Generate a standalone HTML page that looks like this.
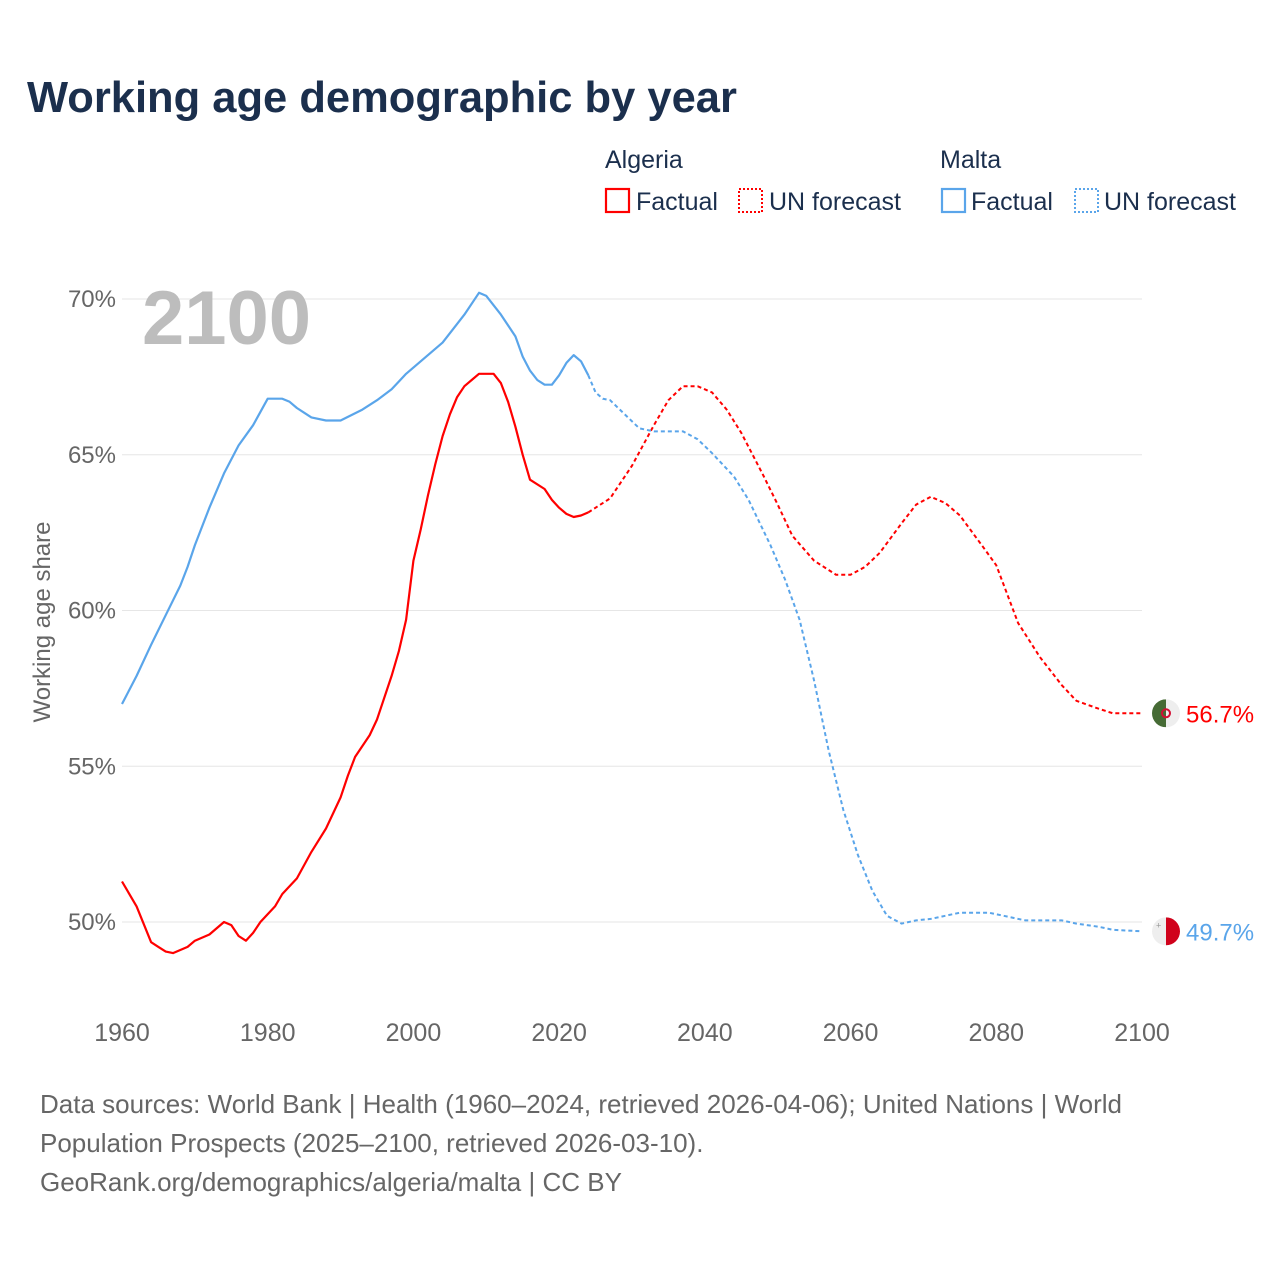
<!DOCTYPE html>
<html><head><meta charset="utf-8"><style>
body{margin:0;background:#fff;}
svg{display:block;font-family:"Liberation Sans",sans-serif;}
</style></head><body>
<svg width="1280" height="1280" viewBox="0 0 1280 1280">
<text x="27" y="112" font-size="43.5" font-weight="bold" fill="#1b2f4d">Working age demographic by year</text>
<g font-size="25" fill="#1b2f4d">
<text x="605" y="168">Algeria</text>
<rect x="606" y="189" width="23" height="23" fill="none" stroke="#f00" stroke-width="2.2"/>
<text x="636" y="210">Factual</text>
<rect x="739" y="189" width="23" height="23" fill="none" stroke="#f00" stroke-width="2" stroke-dasharray="2,2"/>
<text x="769" y="210">UN forecast</text>
<text x="940" y="168">Malta</text>
<rect x="942" y="189" width="23" height="23" fill="none" stroke="#5aa5ea" stroke-width="2.2"/>
<text x="971" y="210">Factual</text>
<rect x="1075" y="189" width="23" height="23" fill="none" stroke="#5aa5ea" stroke-width="2" stroke-dasharray="2,2"/>
<text x="1104" y="210">UN forecast</text>
</g>
<g id="grid"></g>
<text x="142" y="344" font-size="76" font-weight="bold" fill="#bdbdbd">2100</text>
<text transform="translate(50,622) rotate(-90)" text-anchor="middle" font-size="24" fill="#666">Working age share</text>
<g id="series"></g>
<g font-size="26" fill="#666">
<text x="40" y="1113">Data sources: World Bank | Health (1960–2024, retrieved 2026-04-06); United Nations | World</text>
<text x="40" y="1152">Population Prospects (2025–2100, retrieved 2026-03-10).</text>
<text x="40" y="1191">GeoRank.org/demographics/algeria/malta | CC BY</text>
</g>
</svg>
<script>
const xTicks=[1960,1980,2000,2020,2040,2060,2080,2100];
const yTicks=[50,55,60,65,70];
const algYears=[1960,1962,1964,1965,1966,1967,1968,1969,1970,1972,1974,1975,1976,1977,1978,1979,1981,1982,1984,1986,1988,1990,1991,1992,1994,1995,1997,1998,1999,2000,2001,2002,2003,2004,2005,2006,2007,2008,2009,2010,2011,2012,2013,2014,2015,2016,2018,2019,2020,2021,2022,2023,2024,2025,2027,2030,2033,2035,2037,2039,2041,2043,2045,2048,2050,2052,2055,2058,2060,2062,2064,2067,2069,2071,2073,2075,2078,2080,2083,2086,2089,2091,2094,2096,2100];
const algVals=[51.3,50.5,49.35,49.2,49.05,49.0,49.1,49.2,49.4,49.6,50.0,49.9,49.55,49.4,49.65,50.0,50.5,50.9,51.4,52.25,53.0,54.0,54.7,55.3,56.0,56.5,57.9,58.7,59.7,61.6,62.6,63.7,64.7,65.6,66.3,66.85,67.2,67.4,67.6,67.6,67.6,67.3,66.7,65.9,65.0,64.2,63.9,63.55,63.3,63.1,63.0,63.05,63.15,63.3,63.6,64.65,65.95,66.75,67.2,67.2,67.0,66.45,65.7,64.35,63.4,62.4,61.6,61.15,61.15,61.4,61.85,62.8,63.4,63.65,63.45,63.05,62.1,61.45,59.6,58.5,57.6,57.1,56.85,56.7,56.7];
const mltYears=[1960,1962,1964,1966,1968,1969,1970,1972,1974,1976,1978,1980,1982,1983,1984,1985,1986,1988,1990,1993,1995,1997,1999,2001,2004,2007,2009,2010,2012,2014,2015,2016,2017,2018,2019,2020,2021,2022,2023,2024,2025,2026,2027,2029,2031,2033,2037,2039,2041,2044,2046,2049,2051,2053,2055,2057,2059,2061,2063,2065,2067,2069,2071,2073,2075,2079,2081,2084,2089,2091,2094,2096,2100];
const mltVals=[57.0,57.9,58.9,59.85,60.8,61.4,62.1,63.3,64.4,65.3,65.95,66.8,66.8,66.7,66.5,66.35,66.2,66.1,66.1,66.45,66.75,67.1,67.6,68.0,68.6,69.5,70.2,70.1,69.5,68.8,68.15,67.7,67.4,67.25,67.25,67.55,67.95,68.2,68.0,67.55,67.0,66.8,66.75,66.3,65.85,65.75,65.75,65.5,65.05,64.3,63.55,62.1,61.0,59.7,57.75,55.5,53.6,52.15,51.0,50.2,49.95,50.05,50.1,50.2,50.3,50.3,50.2,50.05,50.05,49.95,49.85,49.75,49.7];
const lastFactual=2024;
const X=y=>122+(y-1960)*(1020/140);
const Y=v=>922-(v-50)*31.15;
const NS="http://www.w3.org/2000/svg";
const grid=document.getElementById('grid');
for(const t of yTicks){
 const l=document.createElementNS(NS,'line');
 l.setAttribute('x1',122);l.setAttribute('x2',1142);l.setAttribute('y1',Y(t));l.setAttribute('y2',Y(t));
 l.setAttribute('stroke','#e6e6e6');l.setAttribute('stroke-width','1');
 
 
 grid.appendChild(l);
 const tx=document.createElementNS(NS,'text');
 tx.setAttribute('x',116);tx.setAttribute('y',Y(t)+8);tx.setAttribute('text-anchor','end');
 tx.setAttribute('font-size','24');tx.setAttribute('fill','#666');tx.textContent=t+'%';
 
 
 grid.appendChild(tx);
}
for(const t of xTicks){
 const tx=document.createElementNS(NS,'text');
 tx.setAttribute('x',X(t));tx.setAttribute('y',1041);tx.setAttribute('text-anchor','middle');
 tx.setAttribute('font-size','25');tx.setAttribute('fill','#666');tx.textContent=t;
 
 
 grid.appendChild(tx);
}
const ser=document.getElementById('series');
function draw(years,vals,color,name){
 const f=[],p=[];
 years.forEach((y,i)=>{const pt=X(y).toFixed(1)+','+Y(vals[i]).toFixed(1);if(y<=lastFactual)f.push(pt);if(y>=lastFactual)p.push(pt);});
 const a=document.createElementNS(NS,'polyline');
 a.setAttribute('points',f.join(' '));a.setAttribute('fill','none');a.setAttribute('stroke',color);a.setAttribute('stroke-width','2.2');a.setAttribute('stroke-linejoin','round');
 
 
 ser.appendChild(a);
 const b=document.createElementNS(NS,'polyline');
 b.setAttribute('points',p.join(' '));b.setAttribute('fill','none');b.setAttribute('stroke',color);b.setAttribute('stroke-width','2');b.setAttribute('stroke-dasharray','4,3');
 
 
 ser.appendChild(b);
}
draw(algYears,algVals,'#f00','algeria');
draw(mltYears,mltVals,'#5aa5ea','malta');
function endMarker(v,color,name,left,right,text){
 const cy=Y(v),cx=1166;
 const g=document.createElementNS(NS,'g');
 
 
 g.innerHTML=`<clipPath id="c${name}"><circle cx="${cx}" cy="${cy}" r="14"/></clipPath><g clip-path="url(#c${name})"><rect x="${cx-14}" y="${cy-14}" width="14" height="28" fill="${left}"/><rect x="${cx}" y="${cy-14}" width="14" height="28" fill="${right}"/></g>`+
 (name==='algeria'?`<circle cx="${cx}" cy="${cy}" r="4" fill="none" stroke="#d21034" stroke-width="2"/>`:`<text x="${cx-10}" y="${cy-3}" font-size="9" fill="#999">+</text>`)+
 `<text x="1186" y="${cy+9}" font-size="24" fill="${color}">${text}</text>`;
 ser.appendChild(g);
}
endMarker(algVals[algVals.length-1],'#f00','algeria','#466b35','#eeeeee',algVals[algVals.length-1].toFixed(1)+'%');
endMarker(mltVals[mltVals.length-1],'#5aa5ea','malta','#eeeeee','#d0021b',mltVals[mltVals.length-1].toFixed(1)+'%');
</script>
</body></html>
